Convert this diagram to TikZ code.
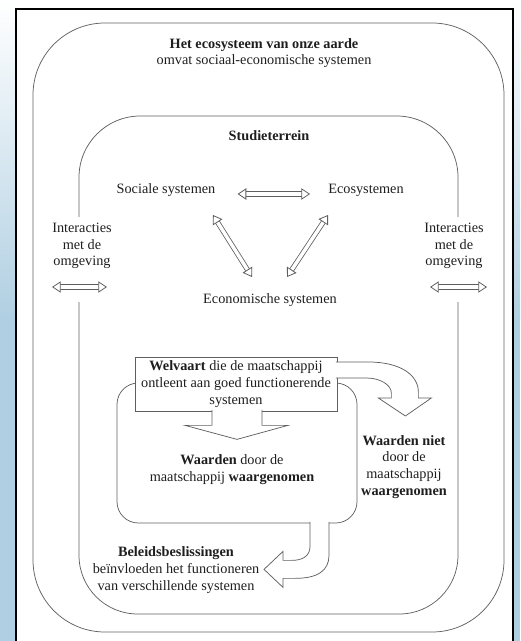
\documentclass[tikz,border=0pt]{standalone}
\usepackage{fontspec}
\setmainfont{Liberation Serif}
\usetikzlibrary{positioning,arrows.meta,calc}

\definecolor{sea}{RGB}{176,207,226}
\definecolor{ink}{RGB}{30,30,30}
\definecolor{rim}{RGB}{95,95,95}

\begin{document}
\begin{tikzpicture}[x=0.75pt,y=-0.75pt]
		\tikzstyle{lbl}=[text=ink,align=center,inner sep=1pt,font=\fontsize{10.7}{12.6}\selectfont];
		\tikzstyle{rimline}=[draw=rim,line width=0.55pt];
		\tikzstyle{hollow}=[draw=rim,line width=0.6pt,double=white,double distance=2.6pt,
			{Triangle[open,fill=white,length=6.5pt,width=8.5pt,line width=0.6pt]}-{Triangle[open,fill=white,length=6.5pt,width=8.5pt,line width=0.6pt]}];
		\tikzstyle{blockarrow}=[draw=rim,line width=0.55pt,fill=white,line join=miter];
		\useasboundingbox (0,0) rectangle (520,641);
		% page edges and frame
		\shade[top color=white,bottom color=sea] (0,0) rectangle (16,320);
		\fill[sea] (0,320) rectangle (16,641);
		\shade[top color=white,bottom color=sea] (513,0) rectangle (520,320);
		\fill[sea] (513,320) rectangle (520,641);
		\draw[line width=1.9pt] (16,641) -- (16,9) -- (513,9) -- (513,641);
		% outer and inner fields
		\draw[rimline,rounded corners=54pt] (33,23) rectangle (504,632);
		\draw[rimline,rounded corners=46pt] (79,217) -- (79,116) -- (458,116) -- (458,217);
		\draw[rimline,rounded corners=44pt] (458,302) -- (458,614) -- (79,614) -- (79,302);
		% texts
		\path (264,53) node[lbl] (earth) {\textbf{Het ecosysteem van onze aarde}\\omvat sociaal-economische systemen};
		\path (269,136) node[lbl] (field) {\textbf{Studieterrein}};
		\path (166,190) node[lbl] (soc) {Sociale systemen};
		\path (366,190) node[lbl] (eco) {Ecosystemen};
		\path (270,300) node[lbl] (econ) {Economische systemen};
		\path (82,246) node[lbl] (intl) {Interacties\\met de\\omgeving};
		\path (454,246) node[lbl] (intr) {Interacties\\met de\\omgeving};
		\draw[hollow,shorten <=15.5pt,shorten >=12.5pt] ([yshift=-3pt]soc.east) -- ([yshift=-3pt]eco.west);
		\draw[hollow] ($(soc)+(47,25)$) -- ($(econ)+(-18,-23)$);
		\draw[hollow] ($(econ)+(17,-23)$) -- ($(eco)+(-38,25)$);
		\draw[hollow] ($(intl)+(-30,41)$) -- ($(intl)+(25,41)$);
		\draw[hollow] ($(intr)+(-24,41)$) -- ($(intr)+(33,41)$);
		% values
		\path (237,453) node[rimline,rounded corners=16pt,minimum width=180pt,minimum height=105pt] (vbox) {};
		\path (232,470) node[lbl] (seen) {\textbf{Waarden} door de\\maatschappij \textbf{waargenomen}};
		\path (236,384) node[lbl,rimline,fill=white,minimum width=151.5pt,minimum height=40.5pt] (welv)
			{\textbf{Welvaart} die de maatschappij\\ontleent aan goed functionerende\\systemen};
		\path (404,467) node[lbl] (notseen) {\textbf{Waarden niet}\\door de\\maatschappij\\\textbf{waargenomen}};
		\path (176,570) node[lbl] (policy) {\textbf{Beleidsbeslissingen}\\beïnvloeden het functioneren\\van verschillende systemen};
		\draw[blockarrow,shift={(welv.south)}] (-24,-1.5) -- (-24,14) -- (-51,14) -- (1,28) -- (52,14) -- (26,14) -- (26,-1.5);
		\draw[blockarrow,shift={(welv.east)}] (-1.5,-22) -- (31,-22) .. controls (63,-22) and (81,-9) .. (81,8)
			-- (81,14) -- (94,14) -- (68,32) -- (41,14) -- (54,14) -- (54,9)
			.. controls (54,1) and (43,-6) .. (29,-6) -- (-1.5,-6);
		\draw[blockarrow,shift={(vbox.south)}] (73,-1.5) -- (73,23) .. controls (73,33) and (65,37) .. (55,37)
			-- (46,37) -- (46,28) -- (27,46) -- (46,64) -- (46,55) -- (58,55)
			.. controls (81,55) and (92,47) .. (92,32) -- (92,-1.5);
\end{tikzpicture}
\end{document}
